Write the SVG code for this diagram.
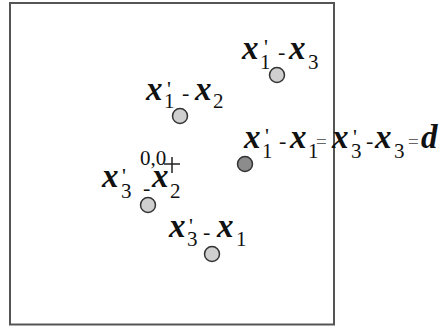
<svg xmlns="http://www.w3.org/2000/svg" width="445" height="326" viewBox="0 0 445 326">
<style>
text,tspan{font-family:'Liberation Serif','Times New Roman','DejaVu Serif',serif}
.v{font-weight:bold;font-style:italic;font-size:33px;fill:#111}
.s{font-size:21px;fill:#111}
.p{font-size:22px;fill:#111}
.d{font-size:22px;fill:#111}
.e{font-size:19px;fill:#666}
.pt{fill:#cfcfcf;stroke:#333;stroke-width:1.5}
.pt2{fill:#8c8c8c;stroke:#333;stroke-width:1.5}
</style>
<rect x="10" y="3" width="324" height="321.5" fill="#fff" stroke="#555" stroke-width="2"/>
<g id="origin">
<text class="s" x="140" y="165">0,0</text>
<path d="M164 164H180M172 157V173" stroke="#222" stroke-width="1.5" fill="none"/>
</g>
<g id="n13">
<circle class="pt" cx="277" cy="75" r="7.5"/>
<text><tspan class="v" x="242" y="59">x</tspan><tspan class="p" x="264" y="54">'</tspan><tspan class="s" x="260" y="69">1</tspan><tspan class="d" x="278" y="59">-</tspan><tspan class="v" x="289" y="59">x</tspan><tspan class="s" x="308" y="69">3</tspan></text>
</g>
<g id="n12">
<circle class="pt" cx="180" cy="116" r="7.5"/>
<text><tspan class="v" x="146" y="100">x</tspan><tspan class="p" x="167" y="96">'</tspan><tspan class="s" x="164" y="108">1</tspan><tspan class="d" x="182" y="100">-</tspan><tspan class="v" x="195" y="100">x</tspan><tspan class="s" x="213" y="108">2</tspan></text>
</g>
<g id="n11">
<circle class="pt2" cx="245" cy="164" r="7.5"/>
<text><tspan class="v" x="244" y="148">x</tspan><tspan class="p" x="265" y="143">'</tspan><tspan class="s" x="262" y="158">1</tspan><tspan class="d" x="279" y="148">-</tspan><tspan class="v" x="290" y="148">x</tspan><tspan class="s" x="308" y="158">1</tspan><tspan class="e" x="316" y="148">=</tspan><tspan class="v" x="332" y="148">x</tspan><tspan class="p" x="353" y="144">'</tspan><tspan class="s" x="351" y="158">3</tspan><tspan class="d" x="366" y="148">-</tspan><tspan class="v" x="375" y="148">x</tspan><tspan class="s" x="394" y="158">3</tspan><tspan class="e" x="408" y="148">=</tspan><tspan class="v" x="421" y="148">d</tspan></text>
</g>
<g id="n32">
<circle class="pt" cx="148" cy="205" r="7.5"/>
<text><tspan class="v" x="102" y="187">x</tspan><tspan class="p" x="122" y="183">'</tspan><tspan class="s" x="121" y="198">3</tspan><tspan class="d" x="143" y="195">-</tspan><tspan class="v" x="152" y="187">x</tspan><tspan class="s" x="170" y="198">2</tspan></text>
</g>
<g id="n31">
<circle class="pt" cx="212" cy="254" r="7.5"/>
<text><tspan class="v" x="169" y="237">x</tspan><tspan class="p" x="189" y="233">'</tspan><tspan class="s" x="187" y="246">3</tspan><tspan class="d" x="203" y="239">-</tspan><tspan class="v" x="217" y="237">x</tspan><tspan class="s" x="236" y="246">1</tspan></text>
</g>
</svg>
